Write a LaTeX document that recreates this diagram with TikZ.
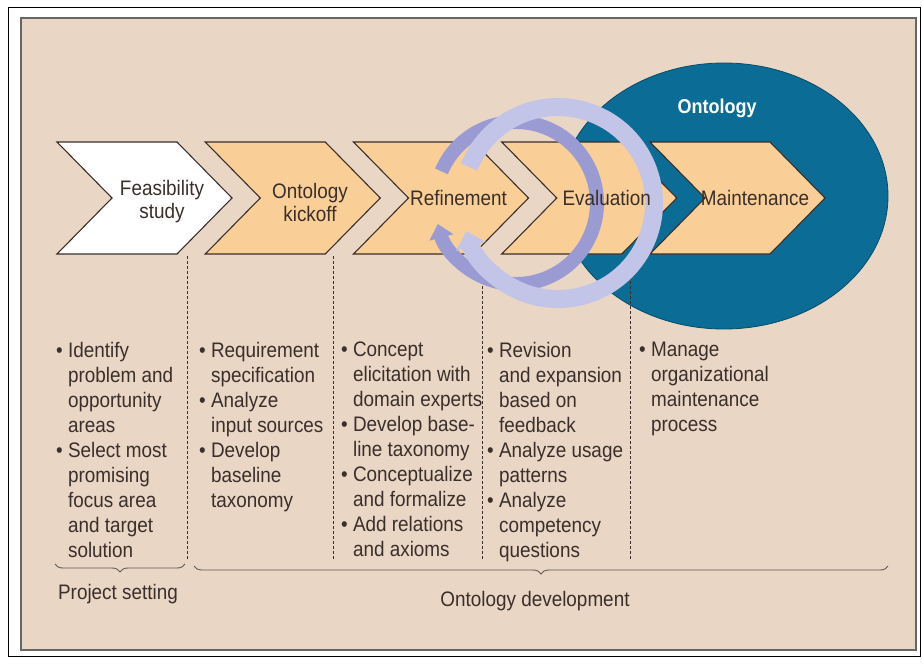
\documentclass[tikz,border=0pt]{standalone}
\usepackage{fontspec}
\newfontfamily\condsans{Liberation Sans}[FakeStretch=0.9]
\usetikzlibrary{arrows.meta,decorations.pathreplacing}
\definecolor{bgsand}{HTML}{E9D6C5}
\definecolor{peach}{HTML}{F9CF97}
\definecolor{ontoblue}{HTML}{0B6D96}
\definecolor{ringdark}{HTML}{9A9BD2}
\definecolor{ringlight}{HTML}{C3C5E8}
\definecolor{inkbrown}{HTML}{3A2F2B}
\newcommand{\bulit}{\textbullet\ }
\newcommand{\contd}{\phantom{\textbullet\ }}
\tikzset{
  chev/.style={draw=inkbrown,line width=1.1pt,line join=miter},
  lab/.style={font=\condsans\fontsize{21}{23}\selectfont,text=inkbrown,align=center,inner sep=0pt},
  col/.style={font=\condsans\fontsize{21}{25}\selectfont,text=inkbrown,align=left,anchor=north west,inner sep=0pt},
  sep/.style={draw=inkbrown,line width=0.7pt,dash pattern=on 3pt off 2pt},
  brc/.style={draw=inkbrown!80,line width=0.9pt,decorate,decoration={brace,mirror,amplitude=8pt}},
}
\begin{document}
\begin{tikzpicture}[x=1pt,y=-1pt]
\useasboundingbox (0,0) rectangle (922,664);
% frame and background
\draw[line width=1pt] (8.5,7.5) rectangle (920.5,656.5);
\filldraw[fill=bgsand,draw=gray!80!black,line width=1.4pt] (21,18) rectangle (916,650);
% the ontology
\filldraw[fill=ontoblue,draw=ontoblue!70!black,line width=0.8pt] (724,196) ellipse [x radius=164,y radius=133];
\node[font=\condsans\bfseries\fontsize{20}{22}\selectfont,text=white] (onto) at (717,108) {Ontology};
% phases
\foreach \lab/\fc [count=\i from 0] in {{Feasibility\\study}/white,{Ontology\\kickoff}/peach,Refinement/peach,Evaluation/peach,Maintenance/peach}{
  \pgfmathsetmacro\xa{57+148.25*\i}
  \draw[chev,fill=\fc] (\xa,142) -- ++(120,0) -- ++(55,56) -- ++(-55,56) -- ++(-120,0) -- ++(55,-56) -- cycle;
}
% separators
\foreach \x in {187,333,482,630}
  \draw[sep] (\x,256) -- (\x,560);
% refinement cycle
\draw[ringdark,line width=14pt,-{Triangle[length=14pt,width=24pt]}] (516,203) ++(203:81) arc[start angle=203,end angle=525,radius=81];
\draw[ringlight,line width=18pt,-{Triangle[length=16pt,width=30pt]}] (558,203) ++(202:96) arc[start angle=202,end angle=523,radius=96];
% phase names
\node[lab] (ph0) at (162,202) {Feasibility\\study};
\node[lab] (ph1) at (310,202) {Ontology\\kickoff};
\foreach \lab [count=\i from 2] in {Refinement,Evaluation,Maintenance}
  \node[lab] (ph\i) at (57+148.25*\i+105,198) {\lab};
% activities
\node[col] (c1) at (56,342) {\bulit Identify\\\contd problem and\\\contd opportunity\\\contd areas\\\bulit Select most\\\contd promising\\\contd focus area\\\contd and target\\\contd solution};
\node[col] (c2) at (199,342) {\bulit Requirement\\\contd specification\\\bulit Analyze\\\contd input sources\\\bulit Develop\\\contd baseline\\\contd taxonomy};
\node[col] (c3) at (341,342) {\bulit Concept\\\contd elicitation with\\\contd domain experts\\\bulit Develop base-\\\contd line taxonomy\\\bulit Conceptualize\\\contd and formalize\\\bulit Add relations\\\contd and axioms};
\node[col] (c4) at (487,342) {\bulit Revision\\\contd and expansion\\\contd based on\\\contd feedback\\\bulit Analyze usage\\\contd patterns\\\bulit Analyze\\\contd competency\\\contd questions};
\node[col] (c5) at (639,342) {\bulit Manage\\\contd organizational\\\contd maintenance\\\contd process};
% braces
\coordinate (psl) at (55,564); \coordinate (psr) at (185,564);
\coordinate (odl) at (194,566); \coordinate (odr) at (888,566);
\draw[brc] (psl) -- (psr);
\draw[brc] (odl) -- (odr);
\node[lab] (ps) at (118,594) {Project setting};
\node[lab] (od) at (535,601) {Ontology development};
\end{tikzpicture}
\end{document}
